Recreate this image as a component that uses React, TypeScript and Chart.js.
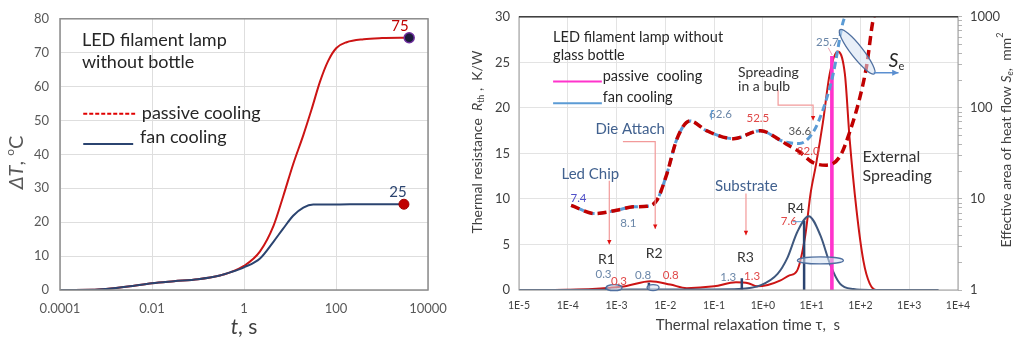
import React, { useEffect, useRef } from "react";
import { Chart, registerables } from "chart.js";
Chart.register(...registerables);

const FAM = "Lato, 'Open Sans', sans-serif";

// ---------- Left panel data: temperature rise vs time ----------
const tFan = [1e-4, 5e-4, 1e-3, 3e-3, 0.01, 0.03, 0.1, 0.3, 0.5, 1, 2.23, 4.4, 7.1, 11.7, 19.5, 32, 74, 200, 1000, 3000];
const dtFan = [0, 0.05, 0.3, 1.0, 2.0, 2.6, 3.2, 4.3, 5.2, 6.7, 9.3, 14.3, 18.1, 21.9, 24.3, 25.2, 25.2, 25.3, 25.3, 25.3];
const tPassive = [1e-4, 5e-4, 1e-3, 3e-3, 0.01, 0.03, 0.1, 0.3, 0.5, 1, 2.23, 4.4, 7.1, 11.7, 19.5, 29.5, 44.7, 67.6, 102, 170, 400, 1000, 3900];
const dtPassive = [0, 0.05, 0.3, 1.0, 2.0, 2.6, 3.2, 4.3, 5.2, 7.1, 11.4, 19.0, 27.6, 37.1, 45.7, 53.3, 61.4, 67.6, 71.4, 73.1, 74.0, 74.3, 74.4];
const endLabelPassive = "75";
const endLabelFan = "25";
const leftXTicks = [1e-4, 1e-2, 1, 100, 1e4];
const leftXTickLabels = ["0.0001", "0.01", "1", "100", "10000"];

// ---------- Right panel data: time-constant spectrum & effective area ----------
const tauSpecPassive = [1e-5, 1e-4, 3.2e-4, 7.4e-4, 1.6e-3, 4.9e-3, 0.0126, 0.0275, 0.1, 0.28, 0.5, 0.76, 1.26, 2.3, 3.5, 5.0, 7.4, 9.5, 12.3, 17, 23.4, 34, 48, 60, 83, 115, 155, 214, 2000];
const rSpecPassive = [0, 0.03, 0.1, 0.25, 0.45, 0.95, 0.6, 0.2, 0.4, 0.85, 0.75, 0.4, 0.55, 1.06, 1.6, 2.1, 6.0, 10.6, 13.8, 18.4, 23.7, 26.2, 23.7, 16.6, 8.8, 3.2, 0.7, 0, 0];
const tauSpecFan = [1e-5, 1e-3, 5e-3, 0.1, 0.32, 0.91, 2.0, 3.16, 5.1, 8.7, 15.1, 24, 38, 72, 158, 4000];
const rSpecFan = [0, 0.04, 0.06, 0.06, 0.1, 0.53, 1.77, 3.5, 6.4, 8.1, 6.0, 2.8, 0.7, 0.1, 0, 0];
const tauBarFan = [6.2e-4, 4.6e-3, 0.37, 7.0];
const rBarFan = [0.3, 0.8, 1.3, 7.6];
const tauBarPassive = [25, 27];
const rBarPassive = [25.7, 25.7];
const tauSeFan = [1.17e-4, 3.6e-4, 1.0e-3, 2.2e-3, 4.2e-3, 6.8e-3, 0.0107, 0.0174, 0.032, 0.071, 0.25, 0.89, 2.3, 3.0, 5.6, 10.7, 17, 27.5, 43.6, 47.9];
const seFan = [8.5, 6.9, 7.5, 8.2, 8.3, 9.8, 18.7, 46, 71.8, 56, 45.9, 56.2, 44, 42, 40.6, 54, 95, 233, 860, 1000];
const tauSePassive = [1.17e-4, 3.6e-4, 1.0e-3, 2.2e-3, 4.2e-3, 6.8e-3, 0.0107, 0.0174, 0.032, 0.071, 0.25, 0.89, 2.3, 3.0, 5.6, 10.7, 20, 38, 60, 98, 135, 182, 190];
const sePassive = [8.5, 6.9, 7.5, 8.2, 8.3, 9.8, 18.7, 46, 71.8, 56, 45.9, 56.2, 44, 40, 33, 25, 23.5, 29.3, 54, 132, 298, 930, 1000];
const rightXTicks = [1e-5, 1e-4, 1e-3, 1e-2, 1e-1, 1, 10, 100, 1000, 1e4];
const rightY2Ticks = [1, 2, 3, 4, 5, 6, 7, 8, 9, 10, 20, 30, 40, 50, 60, 70, 80, 90, 100, 200, 300, 400, 500, 600, 700, 800, 900, 1000];

const RED = "#c00000";
const NAVY = "#2b4470";
const MAG = "#ff33cc";
const LBLUE = "#5b9bd5";
const STEEL = "#41618f";
const BGRAY = "#6a86a8";
const LRED = "#e04848";

const pts = (xs: number[], ys: number[]) => xs.map((x, i) => ({ x, y: ys[i] }));
const segs = (xs: number[], hs: number[]) =>
  xs.flatMap((x, i) => [{ x, y: 0 }, { x, y: hs[i] }, { x, y: null as any }]);

type Part = { t: string; size?: number; italic?: boolean; dy?: number; color?: string };
function drawRich(ctx: CanvasRenderingContext2D, parts: Part[], cx: number, cy: number, angle: number, size: number, color: string, align: "center" | "left" = "center") {
  ctx.save();
  ctx.translate(cx, cy);
  ctx.rotate(angle);
  const f = (p: Part) => `${p.italic ? "italic " : ""}${p.size || size}px ${FAM}`;
  let total = 0;
  for (const p of parts) { ctx.font = f(p); total += ctx.measureText(p.t).width; }
  let x = align === "center" ? -total / 2 : 0;
  ctx.textBaseline = "middle";
  ctx.textAlign = "left";
  for (const p of parts) {
    ctx.font = f(p);
    ctx.fillStyle = p.color || color;
    ctx.fillText(p.t, x, p.dy || 0);
    x += ctx.measureText(p.t).width;
  }
  ctx.restore();
}

function txt(ctx: CanvasRenderingContext2D, s: string, x: number, y: number, size: number, color: string, align: CanvasTextAlign = "left", italic = false) {
  ctx.save();
  ctx.font = `${italic ? "italic " : ""}${size}px ${FAM}`;
  ctx.fillStyle = color;
  ctx.textAlign = align;
  ctx.textBaseline = "middle";
  ctx.fillText(s, x, y);
  ctx.restore();
}

function line(ctx: CanvasRenderingContext2D, p: number[][], color: string, w: number, dash: number[] = []) {
  ctx.save();
  ctx.strokeStyle = color;
  ctx.lineWidth = w;
  ctx.setLineDash(dash);
  ctx.beginPath();
  p.forEach(([x, y], i) => (i ? ctx.lineTo(x, y) : ctx.moveTo(x, y)));
  ctx.stroke();
  ctx.restore();
}

function arrowHead(ctx: CanvasRenderingContext2D, from: number[], to: number[], color: string, size: number) {
  const a = Math.atan2(to[1] - from[1], to[0] - from[0]);
  ctx.save();
  ctx.fillStyle = color;
  ctx.beginPath();
  ctx.moveTo(to[0], to[1]);
  ctx.lineTo(to[0] - size * Math.cos(a - 0.45), to[1] - size * Math.sin(a - 0.45));
  ctx.lineTo(to[0] - size * Math.cos(a + 0.45), to[1] - size * Math.sin(a + 0.45));
  ctx.closePath();
  ctx.fill();
  ctx.restore();
}

// ---------- Left panel decorations ----------
const leftDeco = {
  id: "leftDeco",
  afterDraw(chart: any) {
    const { ctx, chartArea: ca, scales } = chart;
    const X = (v: number) => scales.x.getPixelForValue(v);
    const Y = (v: number) => scales.y.getPixelForValue(v);
    ctx.save();
    ctx.strokeStyle = "#8c8c8c";
    ctx.lineWidth = 1.5;
    ctx.strokeRect(ca.left, ca.top, ca.right - ca.left, ca.bottom - ca.top);
    ctx.restore();
    txt(ctx, "LED filament lamp", X(3.0e-4), Y(73.7), 18, "#262626");
    txt(ctx, "without bottle", X(3.0e-4), Y(67.1), 18, "#262626");
    line(ctx, [[X(3.2e-4), Y(52)], [X(4.3e-3), Y(52)]], "#e00000", 2, [4, 2]);
    txt(ctx, "passive cooling", X(6.0e-3), Y(52.3), 18, "#262626");
    line(ctx, [[X(3.2e-4), Y(43.1)], [X(3.9e-3), Y(43.1)]], NAVY, 2);
    txt(ctx, "fan cooling", X(5.5e-3), Y(45.1), 18, "#262626");
    txt(ctx, endLabelPassive, X(2450), Y(77.7), 15, RED, "center");
    txt(ctx, endLabelFan, X(2230), Y(28.9), 15, NAVY, "center");
    drawRich(ctx, [{ t: "Δ", italic: true }, { t: "T", italic: true }, { t: ", " }, { t: "o", size: 12, dy: -7 }, { t: "C" }], 17, (ca.top + ca.bottom) / 2 + 8, -Math.PI / 2, 20, "#595959");
    drawRich(ctx, [{ t: "t", italic: true }, { t: ", s" }], (ca.left + ca.right) / 2, 327, 0, 21, "#404040");
  },
};

// ---------- Right panel decorations ----------
const rightDeco = {
  id: "rightDeco",
  afterDraw(chart: any) {
    const { ctx, chartArea: ca, scales } = chart;
    const X = (v: number) => scales.x.getPixelForValue(v);
    const Y = (v: number) => scales.y.getPixelForValue(v);
    const Y2 = (v: number) => scales.y2.getPixelForValue(v);
    const P = (t: number, r: number) => [X(t), Y(r)];

    ctx.save();
    ctx.strokeStyle = "#9a9a9a";
    ctx.lineWidth = 1;
    ctx.strokeRect(ca.left, ca.top, ca.right - ca.left, ca.bottom - ca.top);
    ctx.restore();
    line(ctx, [[ca.left, ca.top], [ca.right, ca.top]], "#404040", 1.5);

    txt(ctx, "LED filament lamp without", X(5.0e-5), Y(27.8), 14.5, "#262626");
    txt(ctx, "glass bottle", X(5.0e-5), Y(25.8), 14.5, "#262626");
    line(ctx, [P(5.0e-5, 22.9), P(5.0e-4, 22.9)], MAG, 2);
    txt(ctx, "passive  cooling", X(5.2e-4), Y(23.5), 14.5, "#262626");
    line(ctx, [P(5.0e-5, 20.5), P(5.0e-4, 20.5)], LBLUE, 2);
    txt(ctx, "fan cooling", X(5.2e-4), Y(21.2), 14.5, "#262626");

    const arrows = [
      [[7.1e-4, 12.0], [7.1e-4, 5.0]],
      [[1.35e-3, 16.3], [6.2e-3, 16.3], [6.2e-3, 6.7]],
      [[0.45, 10.6], [0.45, 6.0]],
      [[2.05, 22.0], [2.05, 20.3], [10.7, 20.3], [10.7, 18.6]],
    ];
    for (const a of arrows) {
      const p = a.map(([t, r]) => P(t, r));
      line(ctx, p, "#f29a9a", 1.2);
      arrowHead(ctx, p[p.length - 2], p[p.length - 1], "#e01010", 5);
    }

    const ell = (cx: number, cy: number, rx: number, ry: number, rot: number) => {
      ctx.save();
      ctx.beginPath();
      ctx.ellipse(cx, cy, rx, ry, rot, 0, Math.PI * 2);
      ctx.fillStyle = "rgba(214,226,242,0.55)";
      ctx.fill();
      ctx.strokeStyle = "#4f6f9f";
      ctx.lineWidth = 1.3;
      ctx.stroke();
      ctx.restore();
    };
    ell(X(8.9e-4), Y(0.25), 8, 3, 0);
    ell(X(5.6e-3), Y(0.27), 6, 3, 0);
    ell(X(15.1), Y(3.25), 23, 3.5, 0);
    ell(X(85.6), Y2(413), 28, 6, (52 * Math.PI) / 180);
    const a1 = [X(187), Y2(243)], a2 = [X(603), Y2(243)];
    line(ctx, [a1, a2], "#5b8fd0", 1.5);
    arrowHead(ctx, a1, a2, "#5b8fd0", 7);
    drawRich(ctx, [{ t: "S", italic: true, size: 19 }, { t: "e", size: 11, dy: 5 }], X(550), Y2(326), 0, 19, "#262626");

    txt(ctx, "Led Chip", X(2.9e-4), Y(12.7), 15, STEEL, "center");
    txt(ctx, "Die Attach", X(1.9e-3), Y(17.7), 15, STEEL, "center");
    txt(ctx, "Substrate", X(0.457), Y(11.45), 15, STEEL, "center");
    txt(ctx, "Spreading", X(0.31), Y(23.9), 14, "#333333");
    txt(ctx, "in a bulb", X(0.31), Y(22.4), 14, "#333333");
    txt(ctx, "External", X(110), Y(14.6), 16, "#333333");
    txt(ctx, "Spreading", X(110), Y(12.5), 16, "#333333");
    txt(ctx, "R1", X(6.2e-4), Y(3.36), 14, "#333333", "center");
    txt(ctx, "R2", X(5.9e-3), Y(4.06), 14, "#333333", "center");
    txt(ctx, "R3", X(0.44), Y(3.53), 14, "#333333", "center");
    txt(ctx, "R4", X(4.7), Y(9.0), 14, "#333333", "center");

    const vals: [string, number, number, string][] = [
      ["0.3", 5.4e-4, 1.77, BGRAY], ["0.3", 1.12e-3, 0.99, LRED],
      ["0.8", 3.5e-3, 1.66, BGRAY], ["0.8", 0.0129, 1.66, LRED],
      ["1.3", 0.195, 1.35, BGRAY], ["1.3", 0.6, 1.48, LRED],
      ["7.6", 3.4, 7.5, LRED], ["25.7", 21, 27.2, BGRAY],
      ["7.4", 1.66e-4, 10.07, "#5050c8"], ["8.1", 1.74e-3, 7.35, BGRAY],
      ["62.6", 0.135, 19.3, BGRAY], ["52.5", 0.79, 18.8, LRED],
      ["36.6", 5.7, 17.4, "#555555"], ["32.0", 8.5, 15.2, LRED],
    ];
    for (const [s, t, r, c] of vals) txt(ctx, s, X(t), Y(r), 11.5, c, "center");
    line(ctx, [P(4.1, 7.5), P(6.4, 7.5)], LBLUE, 1);
    line(ctx, [P(21.9, 26.6), P(26.3, 25.8)], "#f0a0b0", 1);
    line(ctx, [P(0.088, 18.7), P(0.088, 19.7), P(0.1, 19.7)], LBLUE, 1);

    drawRich(ctx, [{ t: "Thermal resistance  " }, { t: "R", italic: true }, { t: "th", size: 9, dy: 4 }, { t: " ,  K/W" }], ca.left - 42, 142, -Math.PI / 2, 14, "#404040");
    drawRich(ctx, [{ t: "Effective area of heat flow " }, { t: "S", italic: true }, { t: "e", italic: true, size: 9, dy: 4 }, { t: ",  mm" }, { t: "2", size: 9, dy: -6 }], ca.right + 48, 140, -Math.PI / 2, 14, "#404040");
    drawRich(ctx, [{ t: "Thermal relaxation time τ,  s" }], X(1) - 15, 325, 0, 15, "#404040");
  },
};

const tickFont = (size: number) => ({ family: FAM, size });

export default function App() {
  const leftRef = useRef<HTMLCanvasElement>(null);
  const rightRef = useRef<HTMLCanvasElement>(null);

  useEffect(() => {
    const base = { pointRadius: 0, fill: false, cubicInterpolationMode: "monotone" as const };
    const left = new Chart(leftRef.current!, {
      type: "line",
      data: {
        datasets: [
          { data: [{ x: tPassive[tPassive.length - 1], y: dtPassive[dtPassive.length - 1] }], showLine: false, pointRadius: 5, pointBackgroundColor: "#1b1b3a", pointBorderColor: "#7030a0", pointBorderWidth: 1.5, order: 0 } as any,
          { data: [{ x: tFan[tFan.length - 1], y: dtFan[dtFan.length - 1] }], showLine: false, pointRadius: 5, pointBackgroundColor: "#c00000", pointBorderColor: "#a00000", pointBorderWidth: 1, order: 0 } as any,
          { ...base, data: pts(tFan, dtFan), borderColor: NAVY, borderWidth: 2, order: 1 },
          { ...base, data: pts(tPassive, dtPassive), borderColor: "#cc1414", borderWidth: 2, order: 2 },
        ],
      },
      options: {
        responsive: false,
        animation: false,
        layout: { padding: { top: 10, right: 32, left: 0, bottom: 0 } },
        plugins: { legend: { display: false }, tooltip: { enabled: false } },
        scales: {
          x: {
            type: "logarithmic", min: 1e-4, max: 1e4,
            afterBuildTicks: (s: any) => { s.ticks = leftXTicks.map((v) => ({ value: v })); },
            afterFit: (s: any) => { s.height = 52; },
            ticks: { callback: (_v: any, i: number) => leftXTickLabels[i], font: tickFont(13), color: "#595959", padding: 11, maxRotation: 0, autoSkip: false },
            grid: { color: "#dedede", drawTicks: false },
            border: { display: false },
          } as any,
          y: {
            min: 0, max: 80,
            afterFit: (s: any) => { s.width = 60; },
            ticks: { stepSize: 10, font: tickFont(13), color: "#595959", padding: 11 },
            grid: { color: "#dedede", drawTicks: false },
            border: { display: false },
          } as any,
        },
      },
      plugins: [leftDeco],
    });

    const right = new Chart(rightRef.current!, {
      type: "line",
      data: {
        datasets: [
          { ...base, yAxisID: "y2", data: pts(tauSePassive, sePassive), borderColor: RED, borderWidth: 3.5, borderDash: [9, 5], order: 0 } as any,
          { ...base, yAxisID: "y2", data: pts(tauSeFan, seFan), borderColor: LBLUE, borderWidth: 3, borderDash: [7, 4], borderDashOffset: 4, order: 1 } as any,
          { data: segs(tauBarPassive, rBarPassive), yAxisID: "y", borderColor: MAG, borderWidth: 2, pointRadius: 0, tension: 0, spanGaps: false, order: 2 } as any,
          { data: segs(tauBarFan, rBarFan), yAxisID: "y", borderColor: NAVY, borderWidth: 2.5, pointRadius: 0, tension: 0, spanGaps: false, order: 3 } as any,
          { ...base, yAxisID: "y", data: pts(tauSpecFan, rSpecFan), borderColor: "#3f587e", borderWidth: 2, order: 4 } as any,
          { ...base, yAxisID: "y", data: pts(tauSpecPassive, rSpecPassive), borderColor: "#cc1414", borderWidth: 2, order: 5 } as any,
        ],
      },
      options: {
        responsive: false,
        animation: false,
        layout: { padding: { top: 7, right: 0, left: 0, bottom: 0 } },
        plugins: { legend: { display: false }, tooltip: { enabled: false } },
        scales: {
          x: {
            type: "logarithmic", min: 1e-5, max: 1e4,
            afterBuildTicks: (s: any) => { s.ticks = rightXTicks.map((v) => ({ value: v })); },
            afterFit: (s: any) => { s.height = 52; },
            ticks: {
              callback: (v: any) => { const e = Math.round(Math.log10(v)); return "1E" + (e >= 0 ? "+" : "-") + Math.abs(e); },
              font: tickFont(10.5), color: "#404040", padding: 9, maxRotation: 0, autoSkip: false,
            },
            grid: { color: "#e3e3e3", drawTicks: false },
            border: { display: false },
          } as any,
          y: {
            position: "left", min: 0, max: 30,
            afterFit: (s: any) => { s.width = 79; },
            ticks: { stepSize: 5, font: tickFont(13), color: "#404040", padding: 9 },
            grid: { color: "#e3e3e3", drawTicks: false },
            border: { display: false },
          } as any,
          y2: {
            type: "logarithmic", position: "right", min: 1, max: 1000,
            afterBuildTicks: (s: any) => { s.ticks = rightY2Ticks.map((v) => ({ value: v })); },
            afterFit: (s: any) => { s.width = 58; },
            ticks: {
              callback: (v: any) => { const l = Math.log10(v); return Math.abs(l - Math.round(l)) < 1e-9 ? String(v) : ""; },
              font: tickFont(13), color: "#404040", padding: 8, autoSkip: false,
            },
            grid: { drawOnChartArea: false, drawTicks: true, tickLength: 4, color: "#b5b5b5" },
            border: { display: false },
          } as any,
        },
      },
      plugins: [rightDeco],
    });

    return () => { left.destroy(); right.destroy(); };
  }, []);

  return (
    <div style={{ position: "absolute", left: 0, top: 0, width: 1016, height: 342, background: "#fff", overflow: "hidden" }}>
      <canvas ref={leftRef} width={460} height={342} style={{ position: "absolute", left: 0, top: 0 }} />
      <canvas ref={rightRef} width={576} height={342} style={{ position: "absolute", left: 440, top: 0 }} />
    </div>
  );
}
